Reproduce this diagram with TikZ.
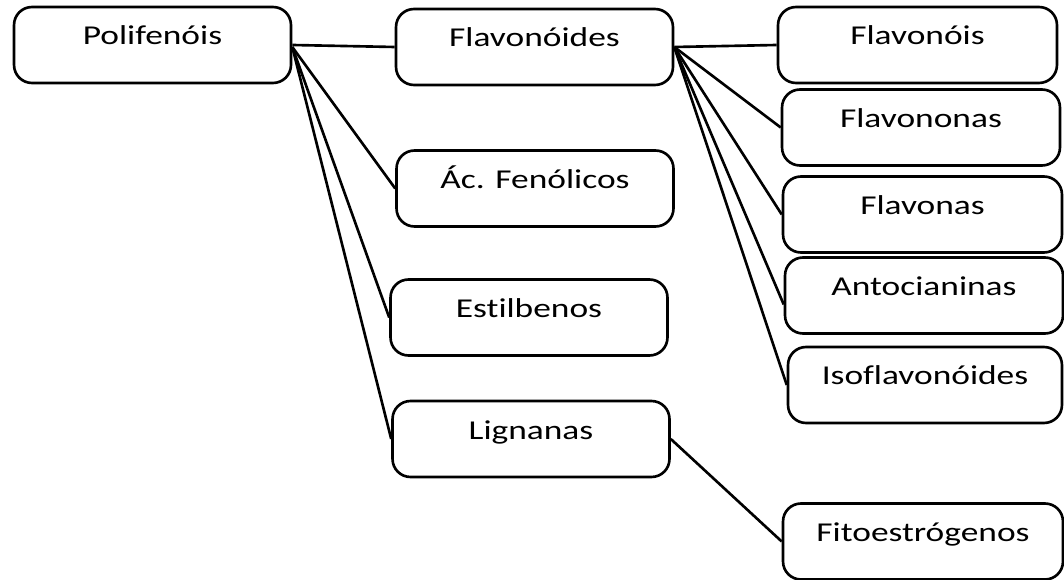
\documentclass[tikz,border=0pt]{standalone}
\usepackage{fontspec}
\setmainfont{Carlito}[FakeStretch=1.3,Ligatures=NoCommon]

\begin{document}
\begin{tikzpicture}[x=0.02cm,y=-0.02cm,
  caixa/.style={draw,line width=1.5pt,rounded corners=0.36cm,minimum width=5.54cm,minimum height=1.52cm,
    text height=0.36cm,text depth=0.36cm,inner sep=0pt,font=\fontsize{15.5}{18}\selectfont},
  liga/.style={line width=1.5pt}]
\useasboundingbox (0,0) rectangle (1064,580);

\node [caixa] (poli) at (152.5,45) {Polifenóis};
\node [caixa] (flavonoides) at (534.5,47) {Flavonóides};
\node [caixa] (acidos) at (535,188.5) {Ác. Fenólicos};
\node [caixa] (estilbenos) at (529,317.5) {Estilbenos};
\node [caixa] (lignanas) at (531,439) {Lignanas};

\node [caixa,minimum width=5.58cm] (flavonois) at (917.5,45) {Flavonóis};
\node [caixa,minimum width=5.56cm] (flavononas) at (921,127.5) {Flavononas};
\node [caixa,minimum width=5.58cm] (flavonas) at (922.5,214.5) {Flavonas};
\node [caixa,minimum width=5.56cm] (antocianinas) at (924,295.5) {Antocianinas};
\node [caixa,minimum width=5.48cm] (isoflavonoides) at (925,385) {Isoflavonóides};
\node [caixa,minimum width=5.6cm] (fitoestrogenos) at (923,541.5) {Fitoestrógenos};

\draw [liga] (poli.east) -- (flavonoides.west);
\draw [liga] ([yshift=-0.04cm]poli.east) -- (acidos.west);
\draw [liga] ([yshift=-0.04cm]poli.east) -- (estilbenos.west);
\draw [liga] ([yshift=-0.04cm]poli.east) -- (lignanas.west);

\draw [liga] (flavonoides.east) -- (flavonois.west);
\draw [liga] (flavonoides.east) -- (flavononas.west);
\draw [liga] (flavonoides.east) -- (flavonas.west);
\draw [liga] (flavonoides.east) -- ([yshift=-0.18cm]antocianinas.west);
\draw [liga] (flavonoides.east) -- (isoflavonoides.west);

\draw [liga] (lignanas.east) -- (fitoestrogenos.west);
\end{tikzpicture}
\end{document}
